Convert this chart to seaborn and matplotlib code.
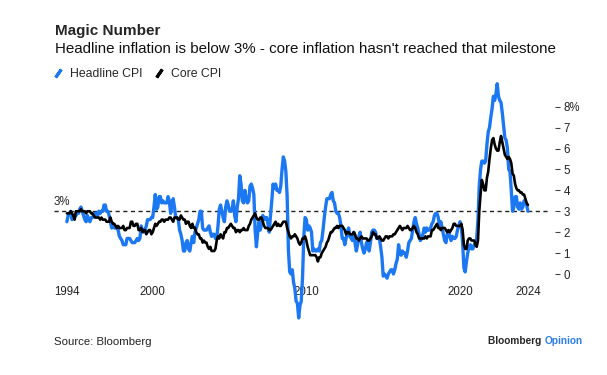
import numpy as np
import pandas as pd
import seaborn as sns
import matplotlib.pyplot as plt
import matplotlib.transforms as mtransforms
from matplotlib.lines import Line2D

# -- data: US CPI, year-over-year % change, monthly Jun 1994 - Jun 2024 --

headline_cpi = [
    2.5, 2.8, 2.9, 3.0, 2.6, 2.7, 2.7,                      # 1994 (Jun-Dec)
    2.8, 2.9, 2.9, 3.1, 3.2, 3.0, 2.8, 2.6, 2.5, 2.8, 2.6, 2.5,  # 1995
    2.7, 2.7, 2.8, 2.9, 2.9, 2.8, 3.0, 2.9, 3.0, 3.0, 3.3, 3.3,  # 1996
    3.0, 3.0, 2.8, 2.5, 2.2, 2.3, 2.2, 2.2, 2.2, 2.1, 1.8, 1.7,  # 1997
    1.6, 1.4, 1.4, 1.4, 1.7, 1.7, 1.7, 1.6, 1.5, 1.5, 1.5, 1.6,  # 1998
    1.7, 1.6, 1.7, 2.3, 2.1, 2.0, 2.1, 2.3, 2.6, 2.6, 2.6, 2.7,  # 1999
    2.7, 3.2, 3.8, 3.1, 3.2, 3.7, 3.7, 3.4, 3.5, 3.4, 3.4, 3.4,  # 2000
    3.7, 3.5, 2.9, 3.3, 3.6, 3.2, 2.7, 2.7, 2.6, 2.1, 1.9, 1.6,  # 2001
    1.1, 1.1, 1.5, 1.6, 1.2, 1.1, 1.5, 1.8, 1.5, 2.0, 2.2, 2.4,  # 2002
    2.6, 3.0, 3.0, 2.2, 2.1, 2.1, 2.1, 2.2, 2.3, 2.0, 1.8, 1.9,  # 2003
    1.9, 1.7, 1.7, 2.3, 3.1, 3.3, 3.0, 2.7, 2.5, 3.2, 3.5, 3.3,  # 2004
    3.0, 3.0, 3.1, 3.5, 2.8, 2.5, 3.2, 3.6, 4.7, 4.3, 3.5, 3.4,  # 2005
    4.0, 3.6, 3.4, 3.5, 4.2, 4.3, 4.1, 3.8, 2.1, 1.3, 2.0, 2.5,  # 2006
    2.1, 2.4, 2.8, 2.6, 2.7, 2.7, 2.4, 2.0, 2.8, 3.5, 4.3, 4.1,  # 2007
    4.3, 4.0, 4.0, 3.9, 4.2, 5.0, 5.6, 5.4, 4.9, 3.7, 1.1, 0.1,  # 2008
    0.0, 0.2, -0.4, -0.7, -1.3, -1.4, -2.1, -1.5, -1.3, -0.2, 1.8, 2.7,  # 2009
    2.6, 2.1, 2.3, 2.2, 2.0, 1.1, 1.2, 1.1, 1.1, 1.2, 1.1, 1.5,  # 2010
    1.6, 2.1, 2.7, 3.2, 3.6, 3.6, 3.6, 3.8, 3.9, 3.5, 3.4, 3.0,  # 2011
    2.9, 2.9, 2.7, 2.3, 1.7, 1.7, 1.4, 1.7, 2.0, 2.2, 1.8, 1.7,  # 2012
    1.6, 2.0, 1.5, 1.1, 1.4, 1.8, 2.0, 1.5, 1.2, 1.0, 1.2, 1.5,  # 2013
    1.6, 1.1, 1.5, 2.0, 2.1, 2.1, 2.0, 1.7, 1.7, 1.7, 1.3, 0.8,  # 2014
    -0.1, 0.0, -0.1, -0.2, 0.0, 0.1, 0.2, 0.2, 0.0, 0.2, 0.5, 0.7,  # 2015
    1.4, 1.0, 0.9, 1.1, 1.0, 1.0, 0.8, 1.1, 1.5, 1.6, 1.7, 2.1,  # 2016
    2.5, 2.7, 2.4, 2.2, 1.9, 1.6, 1.7, 1.9, 2.2, 2.0, 2.2, 2.1,  # 2017
    2.1, 2.2, 2.4, 2.5, 2.8, 2.9, 2.9, 2.7, 2.3, 2.5, 2.2, 1.9,  # 2018
    1.6, 1.5, 1.9, 2.0, 1.8, 1.6, 1.8, 1.7, 1.7, 1.8, 2.1, 2.3,  # 2019
    2.5, 2.3, 1.5, 0.3, 0.1, 0.6, 1.0, 1.3, 1.4, 1.2, 1.2, 1.4,  # 2020
    1.4, 1.7, 2.6, 4.2, 5.0, 5.4, 5.4, 5.3, 5.4, 6.2, 6.8, 7.0,  # 2021
    7.5, 7.9, 8.5, 8.3, 8.6, 9.1, 8.5, 8.3, 8.2, 7.7, 7.1, 6.5,  # 2022
    6.4, 6.0, 5.0, 4.9, 4.0, 3.0, 3.2, 3.7, 3.7, 3.2, 3.1, 3.4,  # 2023
    3.1, 3.2, 3.5, 3.4, 3.3, 3.0,                                # 2024 (Jan-Jun)
]

core_cpi = [
    2.9, 2.9, 2.9, 3.0, 2.9, 2.8, 2.6,                      # 1994 (Jun-Dec)
    3.0, 3.0, 3.0, 3.0, 3.1, 3.0, 3.0, 3.0, 2.9, 3.0, 3.0, 3.0,  # 1995
    2.9, 2.9, 2.8, 2.7, 2.7, 2.7, 2.7, 2.6, 2.7, 2.6, 2.6, 2.6,  # 1996
    2.5, 2.5, 2.5, 2.7, 2.5, 2.4, 2.4, 2.3, 2.2, 2.3, 2.2, 2.2,  # 1997
    2.2, 2.3, 2.1, 2.1, 2.2, 2.2, 2.2, 2.5, 2.5, 2.3, 2.3, 2.4,  # 1998
    2.4, 2.1, 2.1, 2.2, 2.0, 2.1, 2.1, 1.9, 2.0, 2.1, 2.1, 1.9,  # 1999
    2.0, 2.2, 2.4, 2.3, 2.4, 2.5, 2.5, 2.6, 2.6, 2.5, 2.6, 2.6,  # 2000
    2.6, 2.7, 2.7, 2.6, 2.5, 2.7, 2.7, 2.7, 2.6, 2.6, 2.8, 2.7,  # 2001
    2.6, 2.6, 2.4, 2.5, 2.5, 2.3, 2.2, 2.4, 2.2, 2.2, 2.0, 1.9,  # 2002
    1.9, 1.7, 1.7, 1.5, 1.6, 1.5, 1.5, 1.3, 1.2, 1.3, 1.1, 1.1,  # 2003
    1.1, 1.2, 1.6, 1.8, 1.7, 1.9, 1.8, 1.7, 2.0, 2.0, 2.2, 2.2,  # 2004
    2.3, 2.4, 2.3, 2.2, 2.2, 2.0, 2.1, 2.1, 2.0, 2.1, 2.1, 2.2,  # 2005
    2.1, 2.1, 2.1, 2.3, 2.4, 2.6, 2.7, 2.8, 2.9, 2.7, 2.6, 2.6,  # 2006
    2.7, 2.7, 2.5, 2.3, 2.2, 2.2, 2.2, 2.1, 2.1, 2.2, 2.3, 2.4,  # 2007
    2.5, 2.3, 2.4, 2.3, 2.3, 2.4, 2.5, 2.5, 2.5, 2.2, 2.0, 1.8,  # 2008
    1.7, 1.8, 1.8, 1.9, 1.8, 1.7, 1.5, 1.4, 1.5, 1.7, 1.7, 1.8,  # 2009
    1.6, 1.3, 1.1, 0.9, 0.9, 0.9, 0.9, 0.9, 0.8, 0.6, 0.8, 0.8,  # 2010
    1.0, 1.1, 1.2, 1.3, 1.5, 1.6, 1.8, 2.0, 2.0, 2.1, 2.2, 2.2,  # 2011
    2.3, 2.2, 2.3, 2.3, 2.3, 2.2, 2.1, 1.9, 2.0, 2.0, 1.9, 1.9,  # 2012
    1.9, 2.0, 1.9, 1.7, 1.7, 1.6, 1.7, 1.8, 1.7, 1.7, 1.7, 1.7,  # 2013
    1.6, 1.6, 1.7, 1.8, 2.0, 1.9, 1.9, 1.7, 1.7, 1.8, 1.7, 1.6,  # 2014
    1.6, 1.7, 1.8, 1.8, 1.7, 1.8, 1.8, 1.8, 1.9, 1.9, 2.0, 2.1,  # 2015
    2.2, 2.3, 2.2, 2.1, 2.2, 2.2, 2.2, 2.3, 2.2, 2.1, 2.1, 2.2,  # 2016
    2.3, 2.2, 2.0, 1.9, 1.7, 1.7, 1.7, 1.7, 1.7, 1.8, 1.7, 1.8,  # 2017
    1.8, 1.8, 2.1, 2.1, 2.2, 2.3, 2.4, 2.2, 2.2, 2.1, 2.2, 2.2,  # 2018
    2.2, 2.1, 2.0, 2.1, 2.0, 2.1, 2.2, 2.4, 2.4, 2.3, 2.3, 2.3,  # 2019
    2.3, 2.4, 2.1, 1.4, 1.2, 1.2, 1.6, 1.7, 1.7, 1.6, 1.6, 1.6,  # 2020
    1.4, 1.3, 1.6, 3.0, 3.8, 4.5, 4.3, 4.0, 4.0, 4.6, 4.9, 5.5,  # 2021
    6.0, 6.4, 6.5, 6.2, 6.0, 5.9, 5.9, 6.3, 6.6, 6.3, 6.0, 5.7,  # 2022
    5.6, 5.5, 5.6, 5.5, 5.3, 4.8, 4.7, 4.3, 4.1, 4.0, 4.0, 3.9,  # 2023
    3.9, 3.8, 3.8, 3.6, 3.4, 3.3,                                # 2024 (Jan-Jun)
]

series_names = ["Headline CPI", "Core CPI"]
series_colors = ["#1b78f2", "#000000"]
x_tick_labels = ["1994", "2000", "2010", "2020", "2024"]
y_tick_values = [0, 1, 2, 3, 4, 5, 6, 7, 8]
milestone = 3

months = pd.date_range("1994-06-01", periods=len(headline_cpi), freq="MS")
year_frac = months.year + (months.month - 1) / 12

df = pd.concat([
    pd.DataFrame({"year": year_frac, "value": headline_cpi, "series": series_names[0]}),
    pd.DataFrame({"year": year_frac, "value": core_cpi, "series": series_names[1]}),
])

# -- plotting --
sns.set_style("white")
plt.rcParams["font.family"] = ["Liberation Sans", "DejaVu Sans"]

fig = plt.figure(figsize=(6.07, 3.75), dpi=100)
ax = fig.add_axes([0.089, 0.1355, 0.8155, 0.658])

sns.lineplot(data=df, x="year", y="value", hue="series",
             palette=dict(zip(series_names, series_colors)),
             legend=False, ax=ax)
for line, lw in zip(ax.get_lines(), [2.4, 1.9]):
    line.set_linewidth(lw)
    line.set_solid_joinstyle("round")

ax.axhline(milestone, color="#222222", lw=1.0, dashes=(3, 2.5), zorder=0)
ax.text(0, milestone + 0.15, "3%", transform=mtransforms.blended_transform_factory(ax.transAxes, ax.transData),
        ha="left", va="bottom", fontsize=8.3, color="#222222")

ax.set_xlim(1993.58, 2025.79)
ax.set_ylim(-2.4, 9.4)

# right-hand y axis
ax.yaxis.tick_right()
ax.spines["right"].set_position(("outward", 4))
ax.set_yticks(y_tick_values)
ax.set_yticklabels([str(v) for v in y_tick_values[:-1]] + ["8%"])
ax.tick_params(axis="y", direction="out", length=3.8, width=0.8, pad=2.5,
               colors="#444444", labelsize=8.3, labelcolor="#222222")

# bottom axis sitting at zero
ax.spines["bottom"].set_position(("data", -0.1))
ax.set_xticks([year_frac[0], 2000, 2010, 2020, year_frac[-1]])
ax.set_xticklabels(x_tick_labels)
ax.tick_params(axis="x", direction="out", length=2.4, width=0.8, pad=5,
               colors="#444444", labelsize=8.3, labelcolor="#222222")

for s in ax.spines.values():
    s.set_visible(False)
ax.set_xlabel("")
ax.set_ylabel("")

# titles
fig.text(55 / 607, 1 - 31 / 375, "Magic Number", fontsize=11, fontweight="bold", va="center", ha="left")
fig.text(55 / 607, 1 - 49 / 375, "Headline inflation is below 3% - core inflation hasn't reached that milestone",
         fontsize=10.9, va="center", ha="left", color="#111111")

handles = [Line2D([], [], color=c, marker=(2, 2, -35), linestyle="none", markersize=7, markeredgewidth=2.2)
           for c in series_colors]
fig.legend(handles, series_names, loc="center left", bbox_to_anchor=(53 / 607, 1 - 74 / 375),
           frameon=False, ncol=2, fontsize=8.8, handlelength=0.8, handletextpad=0.55,
           columnspacing=1.0, borderpad=0, borderaxespad=0)

fig.text(54 / 607, 1 - 342 / 375, "Source: Bloomberg", fontsize=8.2, va="center", ha="left", color="#222222")
t = fig.text(488 / 607, 1 - 341 / 375, "Bloomberg ", fontsize=7.3, fontweight="bold", va="center", ha="left")
fig.canvas.draw()
bb = t.get_window_extent()
fig.text(bb.x1 / fig.bbox.width, 1 - 341 / 375, "Opinion", fontsize=7.3, fontweight="bold",
         va="center", ha="left", color="#2b7de9")

plt.savefig("out.png", dpi=100)
